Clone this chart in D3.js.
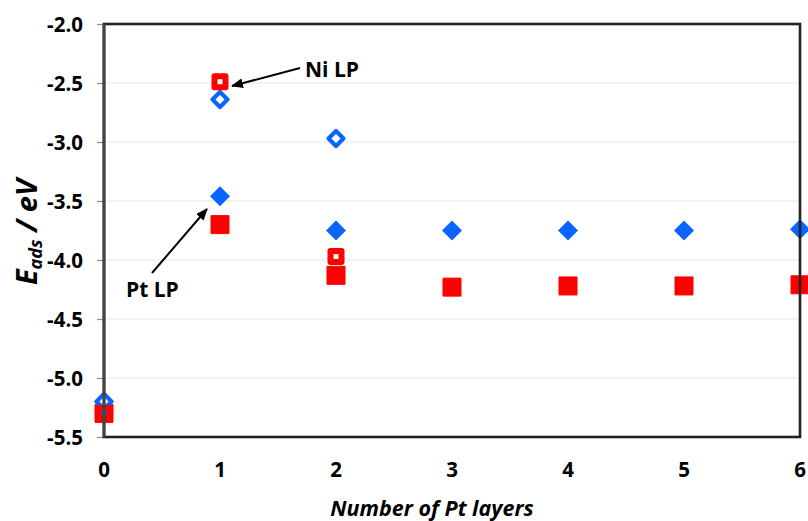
<!DOCTYPE html>
<html>
<head>
<meta charset="utf-8">
<script src="https://cdn.jsdelivr.net/npm/d3@7"></script>
<style>
  html, body { margin: 0; padding: 0; background: #fff; }
  svg { display: block; }
  text { font-family: "Open Sans", "Noto Sans", sans-serif; font-weight: bold; fill: #000; }
</style>
</head>
<body>
<svg id="chart" width="808" height="521"></svg>
<script>
// ---- data ----
const layers = [0, 1, 2, 3, 4, 5, 6];
const ptDiamond = [-5.20, -3.46, -3.75, -3.75, -3.75, -3.75, -3.74];   // filled blue diamonds
const ptSquare  = [-5.30, -3.70, -4.13, -4.23, -4.22, -4.22, -4.21];   // filled red squares
const niLayers  = [0, 1, 2];
const niDiamond = [-5.20, -2.64, -2.97];                               // hollow blue diamonds
const niSquare  = [-5.30, -2.49, -3.97];                               // hollow red squares
const yTicks = [-2.0, -2.5, -3.0, -3.5, -4.0, -4.5, -5.0, -5.5];
const xTicks = [0, 1, 2, 3, 4, 5, 6];

const BLUE = "#0a64ff", RED = "#ff0000";

const svg = d3.select("#chart");
const L = 104, R = 800, T = 24, B = 437;
const x = d3.scaleLinear().domain([0, 6]).range([L, R]);
const y = d3.scaleLinear().domain([-5.5, -2.0]).range([B, T]);

// grid
svg.append("g").selectAll("line").data(yTicks).join("line")
  .attr("x1", L).attr("x2", R)
  .attr("y1", d => y(d)).attr("y2", d => y(d))
  .attr("stroke", "#e6e6ea").attr("stroke-width", 1.2);

// y axis tick marks
const yAxis = d3.axisLeft(y).tickValues(yTicks).tickSize(7).tickFormat("");
const gy = svg.append("g").attr("transform", `translate(${L},0)`).call(yAxis);
gy.select(".domain").remove();
gy.selectAll(".tick line").attr("stroke", "#888").attr("stroke-width", 1.2);

// y tick labels
svg.append("g").selectAll("text").data(yTicks).join("text")
  .attr("x", 83).attr("y", d => y(d) + 7.5)
  .attr("text-anchor", "end").style("font-size", "20.5px")
  .text(d => d3.format(".1f")(d).replace("\u2212", "-"));

// x tick labels
svg.append("g").selectAll("text").data(xTicks).join("text")
  .attr("x", d => x(d)).attr("y", 477)
  .attr("text-anchor", "middle").style("font-size", "20.5px")
  .text(d => d3.format("d")(d));

// symbols
const diamondPath = (h) => `M0,${-h}L${h},0L0,${h}L${-h},0Z`;
const squarePath = (s) => `M${-s/2},${-s/2}h${s}v${s}h${-s}Z`;

// filled red squares
svg.append("g").selectAll("path").data(layers.map((l, i) => [l, ptSquare[i]])).join("path")
  .attr("d", squarePath(18))
  .attr("transform", d => `translate(${x(d[0])},${y(d[1])})`)
  .attr("fill", RED).attr("stroke", RED).attr("stroke-width", 1).attr("stroke-linejoin", "round");

// filled blue diamonds
svg.append("g").selectAll("path").data(layers.map((l, i) => [l, ptDiamond[i]])).join("path")
  .attr("d", diamondPath(10))
  .attr("transform", d => `translate(${x(d[0])},${y(d[1])})`)
  .attr("fill", BLUE);

// hollow blue diamonds
svg.append("g").selectAll("path").data(niLayers.map((l, i) => [l, niDiamond[i]])).join("path")
  .attr("d", diamondPath(7.5))
  .attr("transform", d => `translate(${x(d[0])},${y(d[1])})`)
  .attr("fill", "#fff").attr("stroke", BLUE).attr("stroke-width", 4.2)
  .attr("stroke-linejoin", "round");

// hollow red squares
svg.append("g").selectAll("path").data(niLayers.map((l, i) => [l, niSquare[i]])).join("path")
  .attr("d", squarePath(11))
  .attr("transform", d => `translate(${x(d[0])},${y(d[1])})`)
  .attr("fill", d => d[0] === 0 ? BLUE : "#fff").attr("stroke", RED).attr("stroke-width", 6)
  .attr("stroke-linejoin", "round");

// frame
svg.append("rect").attr("x", L).attr("y", T).attr("width", R - L).attr("height", B - T)
  .attr("fill", "none").attr("stroke", "#222").attr("stroke-width", 2.6);
svg.append("line").attr("x1", L).attr("x2", L).attr("y1", T).attr("y2", B)
  .attr("stroke", "#444").attr("stroke-width", 3);

// arrows
const defs = svg.append("defs");
defs.append("marker").attr("id", "ah").attr("viewBox", "0 0 12 10")
  .attr("refX", 11).attr("refY", 5).attr("markerWidth", 12).attr("markerHeight", 10)
  .attr("markerUnits", "userSpaceOnUse").attr("orient", "auto")
  .append("path").attr("d", "M0,0L12,5L0,10Z").attr("fill", "#000");

svg.append("line").attr("x1", 300).attr("y1", 68).attr("x2", 232).attr("y2", 86)
  .attr("stroke", "#000").attr("stroke-width", 2).attr("marker-end", "url(#ah)");
svg.append("line").attr("x1", 152).attr("y1", 273).attr("x2", 207).attr("y2", 209)
  .attr("stroke", "#000").attr("stroke-width", 2).attr("marker-end", "url(#ah)");

svg.append("text").attr("x", 305).attr("y", 77).style("font-size", "21px").text("Ni LP");
svg.append("text").attr("x", 126).attr("y", 297).style("font-size", "21px").text("Pt LP");

// axis titles
svg.append("text").attr("x", 432).attr("y", 516).attr("text-anchor", "middle")
  .style("font-size", "21.5px").style("font-style", "italic").text("Number of Pt layers");

const yt = svg.append("text").attr("transform", "translate(37,232) rotate(-90)")
  .attr("text-anchor", "middle").style("font-size", "29px").style("font-style", "italic");
yt.append("tspan").text("E");
yt.append("tspan").attr("dy", 5).style("font-size", "18px").text("ads");
yt.append("tspan").attr("dy", -5).text(" / eV");
</script>
</body>
</html>
